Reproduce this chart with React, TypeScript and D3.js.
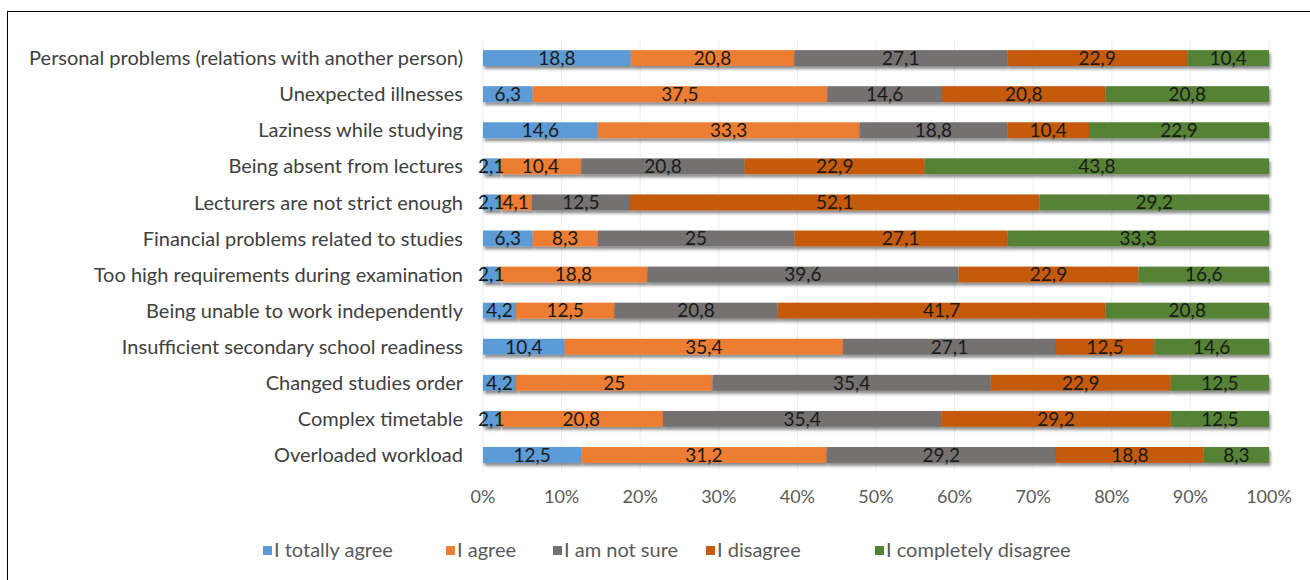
import React from "react";
import * as d3 from "d3";

const categories = [
  "Personal problems (relations with another person)",
  "Unexpected illnesses",
  "Laziness while studying",
  "Being absent from lectures",
  "Lecturers are not strict enough",
  "Financial problems related to studies",
  "Too high requirements during examination",
  "Being unable to work independently",
  "Insufficient secondary school readiness",
  "Changed studies order",
  "Complex timetable",
  "Overloaded workload",
];
const seriesNames = ["I totally agree", "I agree", "I am not sure", "I disagree", "I completely disagree"];
const totallyAgree = [18.8, 6.3, 14.6, 2.1, 2.1, 6.3, 2.1, 4.2, 10.4, 4.2, 2.1, 12.5];
const agree = [20.8, 37.5, 33.3, 10.4, 4.1, 8.3, 18.8, 12.5, 35.4, 25, 20.8, 31.2];
const notSure = [27.1, 14.6, 18.8, 20.8, 12.5, 25, 39.6, 20.8, 27.1, 35.4, 35.4, 29.2];
const disagree = [22.9, 20.8, 10.4, 22.9, 52.1, 27.1, 22.9, 41.7, 12.5, 22.9, 29.2, 18.8];
const completelyDisagree = [10.4, 20.8, 22.9, 43.8, 29.2, 33.3, 16.6, 20.8, 14.6, 12.5, 12.5, 8.3];
const tickValues = [0, 0.1, 0.2, 0.3, 0.4, 0.5, 0.6, 0.7, 0.8, 0.9, 1.0];
const colors = ["#5B9BD5", "#ED7D31", "#767171", "#C55A11", "#548235"];

const seriesValues = [totallyAgree, agree, notSure, disagree, completelyDisagree];

export default function App() {
  const W = 1310, H = 580;
  const x0 = 483, x1 = 1269;
  const yTop = 40, yBot = 473;
  const font = "Lato, 'Open Sans', sans-serif";

  const rows = categories.map((c, i) => {
    const r: any = { cat: c };
    seriesNames.forEach((s, k) => (r[s] = seriesValues[k][i]));
    return r;
  });
  const stacked = d3.stack<any>().keys(seriesNames).offset(d3.stackOffsetExpand)(rows);
  const x = d3.scaleLinear().domain([0, 1]).range([x0, x1]);
  const y = d3.scaleBand().domain(categories).range([yTop, yBot]).paddingInner(0.56).paddingOuter(0.28);
  const fmt = (v: number) => String(v).replace(".", ",");

  const legendX = [263, 446, 553, 706, 875];

  return (
    <svg width={W} height={H} style={{ position: "absolute", left: 0, top: 0 }}>
      <defs>
        <filter id="sh" x="-5%" y="-50%" width="110%" height="250%">
          <feDropShadow dx="1.5" dy="3" stdDeviation="1.8" floodColor="#000" floodOpacity="0.45" />
        </filter>
      </defs>
      <rect x={0} y={0} width={W} height={H} fill="#fff" />
      <rect x={7.5} y={11.5} width={1320} height={600} fill="none" stroke="#000" strokeWidth={1} />
      {tickValues.map((t) => (
        <line key={t} x1={x(t)} x2={x(t)} y1={yTop} y2={yBot} stroke="#ececec" strokeWidth={1} />
      ))}
      {stacked.map((s, k) => (
        <g key={k}>
          {s.map((d, i) => (
            <rect
              key={i}
              x={x(d[0])}
              y={y(categories[i])!}
              width={x(d[1]) - x(d[0])}
              height={y.bandwidth()}
              fill={colors[k]}
              filter="url(#sh)"
            />
          ))}
        </g>
      ))}
      {stacked.map((s, k) => (
        <g key={"l" + k}>
          {s.map((d, i) => (
            <text
              key={i}
              x={(x(d[0]) + x(d[1])) / 2}
              y={y(categories[i])! + y.bandwidth() / 2}
              dy="0.36em"
              textAnchor="middle"
              fontFamily={font}
              fontSize={19}
              fill="#1a1a1a"
            >
              {fmt(seriesValues[k][i])}
            </text>
          ))}
        </g>
      ))}
      {categories.map((c) => (
        <text
          key={c}
          x={463}
          y={y(c)! + y.bandwidth() / 2}
          dy="0.36em"
          textAnchor="end"
          fontFamily={font}
          fontSize={20}
          fill="#404040"
        >
          {c}
        </text>
      ))}
      {tickValues.map((t) => (
        <text key={"t" + t} x={x(t)} y={497} dy="0.36em" textAnchor="middle" fontFamily={font} fontSize={18} fill="#595959">
          {d3.format(".0%")(t)}
        </text>
      ))}
      {seriesNames.map((s, k) => (
        <g key={"lg" + k}>
          <rect x={legendX[k]} y={546} width={9} height={9} fill={colors[k]} />
          <text x={legendX[k] + 11} y={550} dy="0.36em" fontFamily={font} fontSize={20} fill="#595959">
            {s}
          </text>
        </g>
      ))}
    </svg>
  );
}
